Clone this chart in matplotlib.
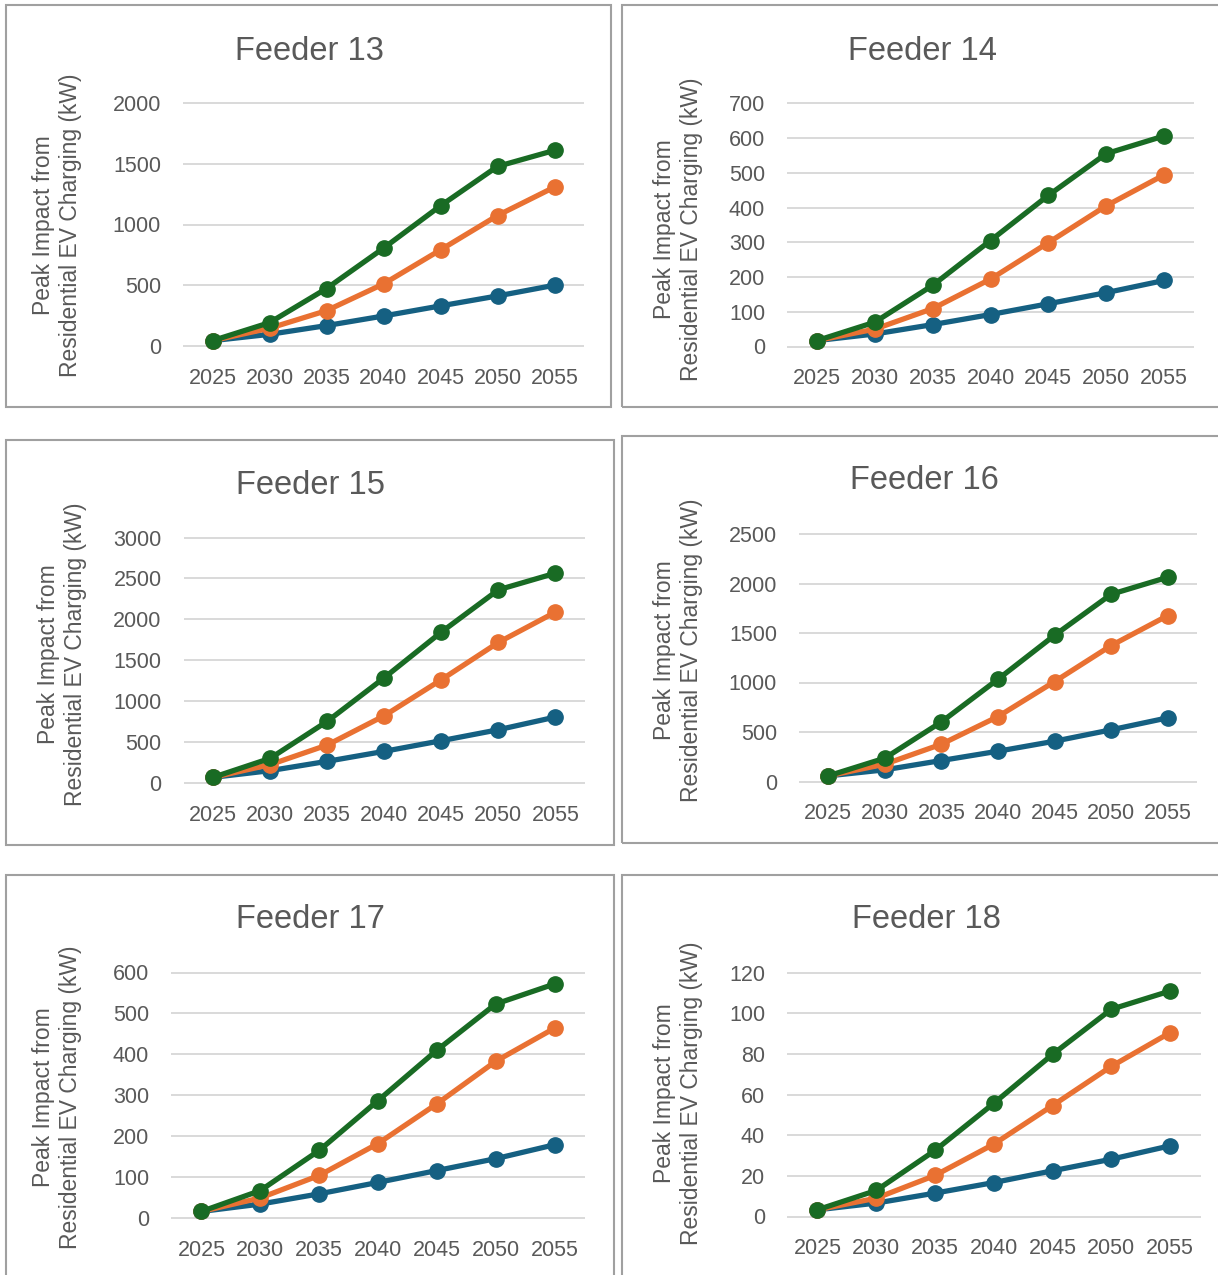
import matplotlib
matplotlib.use("Agg")
import matplotlib.pyplot as plt
from matplotlib.patches import Rectangle
from matplotlib import font_manager

# ---- data -------------------------------------------------------------
years = ["2025", "2030", "2035", "2040", "2045", "2050", "2055"]

f13_blue = [44, 96, 168, 247, 330, 412, 500]
f13_orange = [44, 146, 291, 511, 791, 1074, 1308]
f13_green = [44, 192, 473, 805, 1154, 1478, 1610]

f14_blue = [17, 36, 63, 92, 123, 155, 190]
f14_orange = [17, 50, 109, 194, 299, 405, 494]
f14_green = [17, 70, 176, 305, 435, 555, 606]

f15_blue = [69, 151, 265, 387, 517, 651, 806]
f15_orange = [69, 224, 464, 822, 1262, 1718, 2088]
f15_green = [69, 301, 753, 1286, 1844, 2361, 2564]

f16_blue = [57, 118, 212, 306, 407, 522, 643]
f16_orange = [57, 175, 377, 656, 1009, 1373, 1676]
f16_green = [57, 236, 602, 1033, 1477, 1891, 2063]

f17_blue = [16, 34, 59, 87, 116, 145, 179]
f17_orange = [16, 49, 104, 182, 279, 383, 464]
f17_green = [16, 67, 165, 287, 410, 523, 572]

f18_blue = [3.3, 6.6, 11.5, 16.7, 22.5, 28.2, 34.8]
f18_orange = [3.3, 9.0, 20.2, 35.6, 54.6, 73.9, 90.5]
f18_green = [3.3, 12.8, 32.5, 55.7, 79.8, 102, 111]

titles = ["Feeder 13", "Feeder 14", "Feeder 15", "Feeder 16", "Feeder 17", "Feeder 18"]
y_max = [2000, 700, 3000, 2500, 600, 120]
y_step = [500, 100, 500, 500, 100, 20]
y_label = "Peak Impact from\nResidential EV Charging (kW)"

series = [
    (f13_blue, f13_orange, f13_green),
    (f14_blue, f14_orange, f14_green),
    (f15_blue, f15_orange, f15_green),
    (f16_blue, f16_orange, f16_green),
    (f17_blue, f17_orange, f17_green),
    (f18_blue, f18_orange, f18_green),
]

# ---- style ------------------------------------------------------------
def pick_font(cands):
    for c in cands:
        try:
            font_manager.findfont(c, fallback_to_default=False)
            return c
        except Exception:
            pass
    return "DejaVu Sans"

FONT = pick_font(["Liberation Sans", "Arimo", "DejaVu Sans"])
plt.rcParams["font.family"] = [FONT, "DejaVu Sans"]

TEXT = "#595959"
GRID = "#D9D9D9"
BORDER = "#A0A0A0"
COLORS = ["#156082", "#E97132", "#196B24"]

W, H = 1218, 1275
fig = plt.figure(figsize=(W / 100, H / 100), dpi=100)
fig.patch.set_facecolor("white")

# layout in pixels (from top-left)
# panel frame: x0, y0, x1, y1
frames = [
    (6, 5, 611, 407),
    (622, 5, 1224, 407),
    (6, 440, 614, 845),
    (622, 436, 1224, 843),
    (6, 875, 614, 1285),
    (622, 875, 1224, 1285),
]
# plot area: left, right, y of zero, y of top
plots = [
    (184, 583, 346, 103),
    (788, 1193, 346.5, 103.3),
    (184.5, 584, 783, 537.5),
    (800, 1196, 781.5, 534),
    (172, 584, 1218, 972.5),
    (788, 1199.5, 1216.5, 972.7),
]
title_pos = [(309, 51), (922, 51), (310, 485), (924, 481), (310, 920), (926, 920)]
ylabel_pos = [(57, 225), (678, 229), (62, 654), (678, 650), (57, 1097), (678, 1093)]


def fx(px):
    return px / W


def fy(py):
    return 1 - py / H


for i in range(6):
    x0, y0, x1, y1 = frames[i]
    fig.patches.append(
        Rectangle((fx(x0), fy(y1)), fx(x1 - x0), (y1 - y0) / H,
                  transform=fig.transFigure, fill=False,
                  edgecolor=BORDER, linewidth=1.5, zorder=0)
    )

    l, r, yb, yt = plots[i]
    ax = fig.add_axes([fx(l), fy(yb), fx(r - l), (yb - yt) / H])
    ax.set_facecolor("none")
    xs = list(range(len(years)))
    for vals, c in zip(series[i], COLORS):
        ax.plot(xs, vals, color=c, linewidth=3.8, marker="o",
                markersize=11, clip_on=False, solid_capstyle="round",
                zorder=3)
    ax.set_xlim(-0.5, len(years) - 0.5)
    ax.set_ylim(0, y_max[i])
    ax.set_xticks(xs)
    ax.set_xticklabels(years)
    ax.set_yticks(list(range(0, y_max[i] + 1, y_step[i])))
    ax.tick_params(axis="both", length=0, labelsize=15.5, colors=TEXT)
    ax.tick_params(axis="y", pad=16.5)
    ax.tick_params(axis="x", pad=15.5)
    for s in ax.spines.values():
        s.set_visible(False)
    ax.yaxis.grid(True, color=GRID, linewidth=1.4)
    ax.set_axisbelow(True)
    for gl in ax.get_ygridlines():
        gl.set_clip_on(False)

    tx, ty = title_pos[i]
    fig.text(fx(tx), fy(ty), titles[i], ha="center", va="center",
             fontsize=23.5, color=TEXT)
    lx, ly = ylabel_pos[i]
    fig.text(fx(lx), fy(ly), y_label, ha="center", va="center",
             rotation=90, fontsize=16.5, color=TEXT,
             multialignment="center", linespacing=1.25)

fig.savefig("out.png", dpi=100, facecolor="white")
